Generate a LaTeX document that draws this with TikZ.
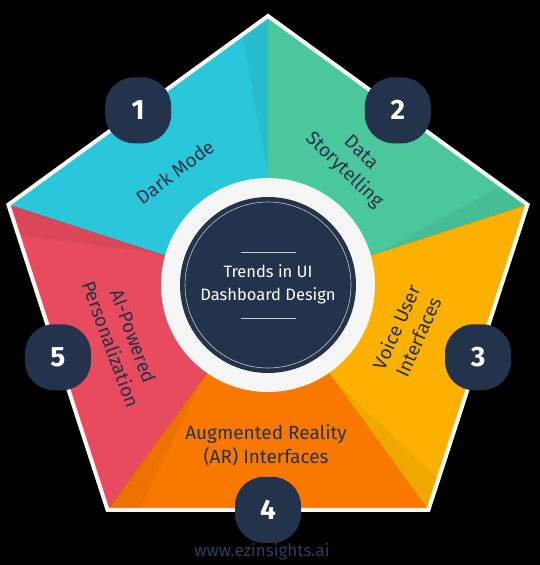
\documentclass[tikz,border=0pt]{standalone}
\usepackage{fontspec}
\setmainfont{Fira Sans}
\usetikzlibrary{calc}
\definecolor{navy}{HTML}{22334B}
\definecolor{cyanf}{HTML}{2AC6DA}
\definecolor{greenf}{HTML}{4AC79D}
\definecolor{yellowf}{HTML}{FCB100}
\definecolor{orangef}{HTML}{F87800}
\definecolor{redf}{HTML}{E84A5E}
\definecolor{ringw}{HTML}{F6F6F6}
\definecolor{urlc}{HTML}{2C3E5E}

\begin{document}
\begin{tikzpicture}[x=1pt,y=-1pt]
\tikzstyle{numbadge}=[fill=navy,rounded corners=29pt,minimum size=66pt,inner sep=0pt,text=white,font=\bfseries\fontsize{28}{28}\selectfont]
\tikzstyle{sectorlabel}=[text=navy,align=center,font=\fontsize{19}{24}\selectfont]
\fill[black] (0,0) rectangle (540,565);
\useasboundingbox (0,0) rectangle (540,565);
\coordinate (c) at (268,289);
\foreach \i in {0,...,4} \path (c) ++(-90+72*\i:273) coordinate (v\i);

% five sectors, each with a darker sliver at its clockwise corner
\foreach \i/\j/\col in {4/0/cyanf,0/1/greenf,1/2/yellowf,2/3/orangef,3/4/redf}{
  \fill[\col] (c) -- (v\i) -- (v\j) -- cycle;
  \fill[\col!95!black] (v\j) -- ($(v\j)!0.1!(v\i)$) -- ($(v\j)!0.58!(c)$) -- cycle;
}
\draw[ringw,line width=4pt,line join=miter] (v0) -- (v1) -- (v2) -- (v3) -- (v4) -- cycle;

% hub
\node[circle,fill=ringw,minimum size=214pt] (ring) at (268,285) {};
\node[circle,fill=navy,minimum size=176pt] (hub) at (268,285) {};
\draw[ringw!75!navy,line width=0.6pt] (hub.center) circle (83);
\node[text=white,align=center,font=\fontsize{16.5}{23}\selectfont] (title) at (268,284) {Trends in UI\\Dashboard Design};
\draw[ringw!80!navy,line width=0.8pt] (241,252) -- (296,252);
\draw[ringw!80!navy,line width=0.8pt] (241,318) -- (296,318);

% sector texts
\node[sectorlabel,rotate=37] (dark) at (175,172) {Dark Mode};
\node[sectorlabel,rotate=-44] (story) at (352,162) {Data\\Storytelling};
\node[sectorlabel,rotate=66] (voice) at (407,332) {Voice User\\Interfaces};
\node[sectorlabel] (ar) at (266,445) {Augmented Reality\\(AR) Interfaces};
\node[sectorlabel,rotate=-70] (ai) at (122,340) {AI-Powered\\Personalization};

% number badges on the edge midpoints
\foreach \i/\j/\n in {4/0/1,0/1/2,1/2/3,2/3/4,3/4/5}
  \node[numbadge] (b\n) at ($(v\i)!0.5!(v\j)$) {\n};

\node[text=urlc,font=\fontsize{17}{17}\selectfont] (url) at (262,552) {www.ezinsights.ai};
\end{tikzpicture}
\end{document}
